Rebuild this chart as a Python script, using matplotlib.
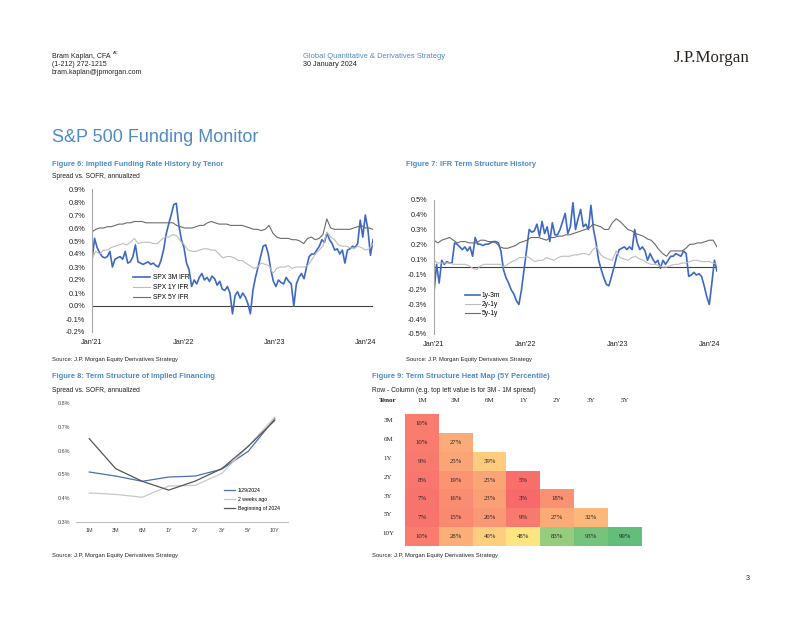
import matplotlib
matplotlib.use('Agg')
import matplotlib.pyplot as plt
import numpy as np
import pandas as pd
from matplotlib.colors import LinearSegmentedColormap, TwoSlopeNorm

plt.rcParams['font.family'] = ['Liberation Sans', 'DejaVu Sans']

# ---- data ----
# Figure 6: implied funding rate by tenor, % spread vs SOFR
spx_3m = [0.35, 0.52, 0.45, 0.41, 0.38, 0.37, 0.38, 0.42, 0.30, 0.36, 0.37, 0.38, 0.36, 0.42, 0.33, 0.34, 0.38, 0.47,
          0.34, 0.33, 0.32, 0.33, 0.34, 0.32, 0.33, 0.31, 0.30, 0.35, 0.43, 0.55, 0.63, 0.70, 0.78, 0.79, 0.62, 0.51,
          0.45, 0.33, 0.28, 0.15, 0.20, 0.17, 0.22, 0.25, 0.20, 0.22, 0.19, 0.23, 0.21, 0.16, 0.19, 0.13, 0.12, 0.15,
          0.10, -0.06, 0.08, 0.11, 0.06, 0.10, 0.07, 0.02, -0.06, 0.12, 0.22, 0.30, 0.38, 0.46, 0.47, 0.40, 0.28, 0.19,
          0.15, 0.20, 0.18, 0.17, 0.22, 0.19, 0.17, 0.00, 0.17, 0.22, 0.25, 0.21, 0.30, 0.38, 0.40, 0.40, 0.43, 0.46,
          0.51, 0.49, 0.56, 0.51, 0.48, 0.43, 0.44, 0.40, 0.43, 0.33, 0.43, 0.44, 0.46, 0.45, 0.48, 0.66, 0.53, 0.70,
          0.59, 0.39, 0.51]
spx_1y = [0.37, 0.42, 0.40, 0.43, 0.43, 0.45, 0.46, 0.47, 0.48, 0.47, 0.49, 0.52,
          0.48, 0.49, 0.49, 0.49, 0.48, 0.48, 0.51, 0.53, 0.53, 0.55, 0.54, 0.50,
          0.47, 0.43, 0.42, 0.42, 0.43, 0.44, 0.44, 0.43, 0.43, 0.40, 0.37, 0.38,
          0.38, 0.37, 0.35, 0.35, 0.33, 0.31, 0.29, 0.30, 0.33, 0.32, 0.31, 0.25,
          0.29, 0.30, 0.30, 0.31, 0.29, 0.30, 0.30, 0.30, 0.31, 0.35, 0.40, 0.43,
          0.46, 0.57, 0.53, 0.51, 0.47, 0.46, 0.46, 0.45, 0.44, 0.46, 0.45, 0.43,
          0.44, 0.48]
spx_5y = [0.57, 0.59, 0.60, 0.60, 0.61, 0.61, 0.62, 0.63, 0.63, 0.64, 0.64, 0.65,
          0.65, 0.65, 0.64, 0.64, 0.64, 0.64, 0.64, 0.64, 0.64, 0.64, 0.62, 0.61,
          0.60, 0.60, 0.60, 0.61, 0.62, 0.62, 0.64, 0.65, 0.64, 0.63, 0.63, 0.63,
          0.62, 0.62, 0.62, 0.62, 0.61, 0.60, 0.59, 0.59, 0.58, 0.59, 0.62, 0.56,
          0.53, 0.52, 0.52, 0.52, 0.51, 0.51, 0.50, 0.48, 0.52, 0.53, 0.51, 0.52,
          0.55, 0.67, 0.60, 0.59, 0.59, 0.59, 0.59, 0.59, 0.60, 0.61, 0.62, 0.60,
          0.60, 0.59]

# Figure 7: IFR term structure spreads
ifr_1y3m = [-0.19, 0.02, -0.12, 0.05, 0.02, 0.04, 0.03, 0.03, 0.18, 0.17, 0.15, 0.13, 0.15, 0.12, 0.15, 0.08, 0.22, 0.17,
            0.17, 0.16, 0.17, 0.17, 0.18, 0.19, 0.19, 0.18, 0.12, -0.02, -0.08, -0.12, -0.17, -0.20, -0.25, -0.28, -0.17, -0.02,
            0.13, 0.28, 0.26, 0.27, 0.32, 0.23, 0.34, 0.25, 0.30, 0.19, 0.33, 0.24, 0.24, 0.28, 0.34, 0.40, 0.25, 0.30,
            0.48, 0.28, 0.36, 0.43, 0.30, 0.32, 0.28, 0.46, 0.28, 0.18, 0.05, -0.02, -0.08, -0.13, -0.14, -0.07, 0.00, 0.08,
            0.13, 0.14, 0.15, 0.13, 0.15, 0.13, 0.28, 0.18, 0.13, 0.15, 0.12, 0.05, 0.10, 0.06, 0.03, 0.05, -0.01, 0.05,
            0.02, 0.05, 0.08, 0.08, 0.10, 0.09, 0.08, 0.12, 0.10, -0.07, -0.06, -0.04, -0.06, -0.05, -0.07, -0.14, -0.22, -0.28,
            -0.12, 0.05, -0.03]
ifr_2y1y = [0.05, 0.03, 0.03, 0.03, 0.03, 0.02, 0.02, 0.02, 0.02, 0.01, -0.01, -0.02,
            0.01, 0.02, 0.02, 0.02, 0.02, 0.02, 0.00, 0.02, 0.04, 0.05, 0.07, 0.07,
            0.08, 0.06, 0.04, 0.05, 0.05, 0.07, 0.06, 0.05, 0.07, 0.08, 0.08, 0.08,
            0.09, 0.09, 0.10, 0.10, 0.09, 0.13, 0.15, 0.09, 0.07, 0.06, 0.05, 0.12,
            0.07, 0.06, 0.05, 0.07, 0.08, 0.06, 0.05, 0.03, 0.02, 0.02, 0.01, 0.00,
            0.00, 0.01, 0.02, 0.02, 0.03, 0.03, 0.04, 0.05, 0.05, 0.04, 0.04, 0.04,
            0.03, 0.02]
ifr_5y1y = [0.20, 0.18, 0.20, 0.21, 0.22, 0.20, 0.18, 0.19, 0.19, 0.18, 0.18, 0.18,
            0.20, 0.20, 0.19, 0.19, 0.18, 0.15, 0.14, 0.14, 0.15, 0.16, 0.18, 0.19,
            0.20, 0.22, 0.22, 0.22, 0.21, 0.20, 0.22, 0.22, 0.23, 0.23, 0.24, 0.24,
            0.25, 0.26, 0.27, 0.28, 0.29, 0.32, 0.31, 0.30, 0.28, 0.28, 0.33, 0.36,
            0.34, 0.31, 0.28, 0.27, 0.25, 0.24, 0.23, 0.21, 0.20, 0.17, 0.13, 0.10,
            0.08, 0.12, 0.12, 0.12, 0.12, 0.14, 0.17, 0.17, 0.18, 0.18, 0.19, 0.20,
            0.20, 0.15]

# Figure 8: term structure curves
tenors = ['1M', '3M', '6M', '1Y', '2Y', '3Y', '5Y', '10Y']
curve_now = [0.510, 0.493, 0.471, 0.489, 0.493, 0.522, 0.597, 0.734]
curve_2w = [0.422, 0.416, 0.404, 0.451, 0.454, 0.504, 0.618, 0.741]
curve_boy = [0.650, 0.524, 0.471, 0.434, 0.472, 0.524, 0.618, 0.727]

# Figure 9: heat map (5Y percentile), row - column
heat_rows = ['3M', '6M', '1Y', '2Y', '3Y', '5Y', '10Y']
heat_cols = ['1M', '3M', '6M', '1Y', '2Y', '3Y', '5Y']
heat_vals = [[10, None, None, None, None, None, None],
             [10, 27, None, None, None, None, None],
             [9, 25, 39, None, None, None, None],
             [8, 19, 25, 5, None, None, None],
             [7, 16, 23, 3, 18, None, None],
             [7, 15, 20, 9, 27, 32, None],
             [10, 28, 40, 48, 83, 93, 99]]

year_ticks = ['2021-01-01', '2022-01-01', '2023-01-01', '2024-01-01']
year_labels = ["Jan'21", "Jan'22", "Jan'23", "Jan'24"]

# ---- styling ----
W, H = 802, 620
BLUE = '#3D68C4'
LGRAY = '#BDBDBD'
DGRAY = '#6B6B6B'
TITLE_BLUE = '#4E8AC8'
TXT = '#222222'
start, end = pd.Timestamp('2021-01-01'), pd.Timestamp('2024-01-29')


def rect(x0, y0, x1, y1):
    return [x0 / W, 1 - y1 / H, (x1 - x0) / W, (y1 - y0) / H]


def ftext(x, y, s, **kw):
    kw.setdefault('va', 'center')
    kw.setdefault('color', TXT)
    fig.text(x / W, 1 - y / H, s, **kw)


fig = plt.figure(figsize=(W / 100, H / 100), dpi=100)

# header
ftext(52, 56, 'Bram Kaplan, CFA', fontsize=5)
ftext(113, 53.5, 'AC', fontsize=3)
ftext(52, 64.5, '(1-212) 272-1215', fontsize=5)
ftext(52, 73, 'bram.kaplan@jpmorgan.com', fontsize=5)
ftext(303, 56, 'Global Quantitative & Derivatives Strategy', fontsize=5.4, color=TITLE_BLUE)
ftext(303, 64.5, '30 January 2024', fontsize=5.2)
ftext(750, 58, 'J.P.Morgan', fontsize=12.2, ha='right', family='Liberation Serif', color='#2a2420')
ftext(52, 137.5, 'S&P 500 Funding Monitor', fontsize=13, color=TITLE_BLUE)

# chart titles / sources
ftext(52, 165, 'Figure 6: Implied Funding Rate History by Tenor', fontsize=5.4, weight='bold', color=TITLE_BLUE)
ftext(52, 177, 'Spread vs. SOFR, annualized', fontsize=4.8)
ftext(406, 165, 'Figure 7: IFR Term Structure History', fontsize=5.4, weight='bold', color=TITLE_BLUE)
ftext(52, 360, 'Source: J.P. Morgan Equity Derivatives Strategy', fontsize=4.2)
ftext(406, 360, 'Source: J.P. Morgan Equity Derivatives Strategy', fontsize=4.2)
ftext(52, 377, 'Figure 8: Term Structure of Implied Financing', fontsize=5.4, weight='bold', color=TITLE_BLUE)
ftext(52, 390, 'Spread vs. SOFR, annualized', fontsize=4.8)
ftext(372, 377, 'Figure 9: Term Structure Heat Map (5Y Percentile)', fontsize=5.4, weight='bold', color=TITLE_BLUE)
ftext(372, 390, 'Row - Column (e.g. top left value is for 3M - 1M spread)', fontsize=4.8)
ftext(52, 555, 'Source: J.P. Morgan Equity Derivatives Strategy', fontsize=4.2)
ftext(372, 555, 'Source: J.P. Morgan Equity Derivatives Strategy', fontsize=4.2)
ftext(750, 578, '3', fontsize=5, ha='right')


def style_ts(ax):
    for s in ['top', 'right', 'bottom']:
        ax.spines[s].set_visible(False)
    ax.spines['left'].set_color('#A6A6A6')
    ax.spines['left'].set_linewidth(0.8)
    ax.tick_params(length=0, labelsize=5.3, colors=TXT, pad=5)
    ax.set_xlim(start, end)
    ax.set_xticks(pd.to_datetime(year_ticks))
    ax.set_xticklabels(year_labels)
    ax.set_facecolor('none')


# Figure 6
fine = pd.date_range(start, end, periods=len(spx_3m))
coarse = pd.date_range(start, end, periods=len(spx_1y))
ax1 = fig.add_axes(rect(92, 189, 373, 332))
ax1.axhline(0, color='#404040', lw=0.8)
ax1.plot(fine, spx_3m, color=BLUE, lw=1.2, label='SPX 3M IFR')
ax1.plot(coarse, spx_1y, color=LGRAY, lw=0.8, label='SPX 1Y IFR')
ax1.plot(coarse, spx_5y, color=DGRAY, lw=0.8, label='SPX 5Y IFR')
ax1.set_ylim(-0.2, 0.9)
yt = [round(v, 1) for v in np.arange(-0.2, 0.95, 0.1)]
ax1.set_yticks(yt)
ax1.set_yticklabels([f'{v:.1f}%' for v in yt])
style_ts(ax1)
ax1.legend(loc='upper left', bbox_to_anchor=(133 / W, 1 - 274 / H), bbox_transform=fig.transFigure,
           frameon=False, fontsize=4.8, handlelength=2.6, handletextpad=0.4, labelspacing=0.45,
           borderpad=0, borderaxespad=0)

# Figure 7
fine2 = pd.date_range(start, end, periods=len(ifr_1y3m))
coarse2 = pd.date_range(start, end, periods=len(ifr_2y1y))
ax2 = fig.add_axes(rect(434, 200, 717, 334))
ax2.axhline(0, color='#404040', lw=0.8)
ax2.plot(fine2, ifr_1y3m, color=BLUE, lw=1.2, label='1y-3m')
ax2.plot(coarse2, ifr_2y1y, color=LGRAY, lw=0.8, label='2y-1y')
ax2.plot(coarse2, ifr_5y1y, color=DGRAY, lw=0.8, label='5y-1y')
ax2.set_ylim(-0.5, 0.5)
yt2 = np.linspace(-0.5, 0.5, 10)
ax2.set_yticks(yt2)
ax2.set_yticklabels([f'{v:.1f}%' for v in yt2])
style_ts(ax2)
ax2.legend(loc='upper left', bbox_to_anchor=(465 / W, 1 - 292 / H), bbox_transform=fig.transFigure,
           frameon=False, fontsize=4.8, handlelength=2.2, handletextpad=0.3, labelspacing=0.3,
           borderpad=0, borderaxespad=0)

# Figure 8
ax3 = fig.add_axes(rect(76, 403, 288, 522))
x = np.arange(len(tenors))
ax3.plot(x, curve_now, color='#4C6FB0', lw=0.9, label='1/29/2024')
ax3.plot(x, curve_2w, color='#C9C9C9', lw=0.9, label='2 weeks ago')
ax3.plot(x, curve_boy, color='#555555', lw=0.9, label='Beginning of 2024')
ax3.set_xlim(-0.5, len(tenors) - 0.5)
ax3.set_ylim(0.3, 0.8)
yt3 = [0.3, 0.4, 0.5, 0.6, 0.7, 0.8]
ax3.set_yticks(yt3)
ax3.set_yticklabels([f'{v:.1f}%' for v in yt3])
ax3.set_xticks(x)
ax3.set_xticklabels(tenors)
for s in ['top', 'right', 'left']:
    ax3.spines[s].set_visible(False)
ax3.spines['bottom'].set_color('#BFBFBF')
ax3.spines['bottom'].set_linewidth(0.8)
ax3.tick_params(length=0, labelsize=3.9, colors='#444444', pad=4)
ax3.legend(loc='upper left', bbox_to_anchor=(224 / W, 1 - 488 / H), bbox_transform=fig.transFigure,
           frameon=False, fontsize=3.7, handlelength=2.2, handletextpad=0.5, labelspacing=0.75,
           borderpad=0, borderaxespad=0)

# Figure 9
ax4 = fig.add_axes(rect(405, 414, 642, 546))
arr = np.array([[np.nan if v is None else v for v in row] for row in heat_vals], dtype=float)
cmap = LinearSegmentedColormap.from_list('ryg', ['#F8696B', '#FFEB84', '#63BE7B'])
norm = TwoSlopeNorm(vmin=3, vcenter=50, vmax=99)
ax4.imshow(np.ma.masked_invalid(arr), cmap=cmap, norm=norm, aspect='auto', interpolation='nearest')
ax4.set_xlim(-0.5, 6.5)
ax4.set_ylim(6.5, -0.5)
ax4.axis('off')
serif = 'Liberation Serif'
for i, row in enumerate(heat_vals):
    ax4.text(-1.0, i - 0.15, heat_rows[i], ha='center', va='center', fontsize=5, family=serif, color=TXT)
    for j, v in enumerate(row):
        if v is not None:
            ax4.text(j, i, f'{v}%', ha='center', va='center', fontsize=4.9, family=serif, color=TXT)
for j, c in enumerate(heat_cols):
    ax4.text(j, -1.2, c, ha='center', va='center', fontsize=5, family=serif, color=TXT)
ax4.text(-1.0, -1.2, 'Tenor', ha='center', va='center', fontsize=5, family=serif, weight='bold', color=TXT)

fig.savefig('out.png', dpi=100)
